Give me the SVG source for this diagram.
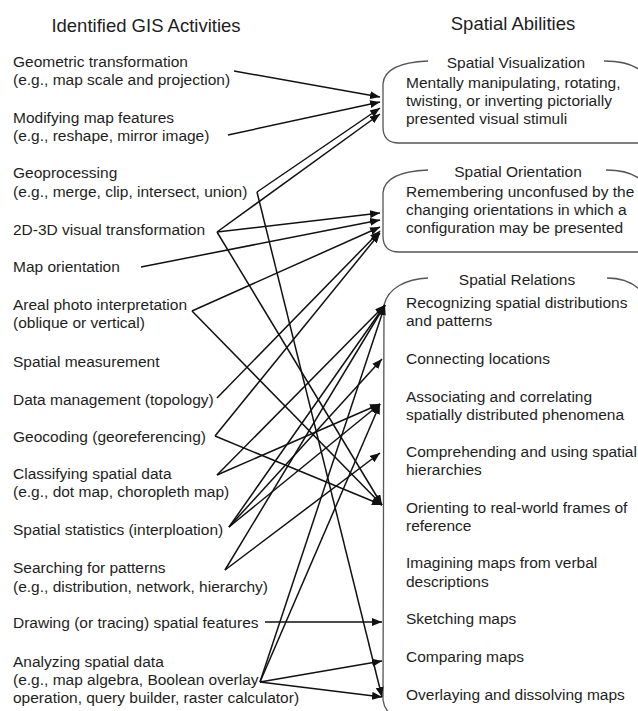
<svg xmlns="http://www.w3.org/2000/svg" width="638" height="711" viewBox="0 0 638 711">
<defs>
<marker id="ah" markerUnits="userSpaceOnUse" markerWidth="10" markerHeight="8" refX="10" refY="4" orient="auto">
<path d="M0,0 L10,4 L0,8 z" fill="#111"/>
</marker>
<style>
text{font-family:"Liberation Sans",Arial,sans-serif;font-size:15.5px;fill:#1e1e1e}
.title{font-size:18.5px}
.bt{text-anchor:middle}
.box{fill:none;stroke:#555;stroke-width:1.3}
.c line{stroke:#111;stroke-width:1.5;marker-end:url(#ah)}
</style>
</defs>
<rect width="638" height="711" fill="#fff"/>
<text class="title" x="146" y="32" text-anchor="middle">Identified GIS Activities</text>
<text class="title" x="513" y="30" text-anchor="middle">Spatial Abilities</text>

<g id="act-geometric"><text x="13" y="67">Geometric transformation</text><text x="13" y="85">(e.g., map scale and projection)</text></g>
<g id="act-modifying"><text x="13" y="123">Modifying map features</text><text x="13" y="141">(e.g., reshape, mirror image)</text></g>
<g id="act-geoprocessing"><text x="13" y="178">Geoprocessing</text><text x="13" y="197">(e.g., merge, clip, intersect, union)</text></g>
<g id="act-2d3d"><text x="13" y="235">2D-3D visual transformation</text></g>
<g id="act-maporient"><text x="13" y="272">Map orientation</text></g>
<g id="act-areal"><text x="13" y="310">Areal photo interpretation</text><text x="13" y="328">(oblique or vertical)</text></g>
<g id="act-measure"><text x="13" y="367">Spatial measurement</text></g>
<g id="act-datamgmt"><text x="13" y="405">Data management (topology)</text></g>
<g id="act-geocoding"><text x="13" y="442">Geocoding (georeferencing)</text></g>
<g id="act-classifying"><text x="13" y="479">Classifying spatial data</text><text x="13" y="497">(e.g., dot map, choropleth map)</text></g>
<g id="act-stats"><text x="13" y="535">Spatial statistics (interploation)</text></g>
<g id="act-searching"><text x="13" y="573">Searching for patterns</text><text x="13" y="592">(e.g., distribution, network, hierarchy)</text></g>
<g id="act-drawing"><text x="13" y="628">Drawing (or tracing) spatial features</text></g>
<g id="act-analyzing"><text x="13" y="667">Analyzing spatial data</text><text x="13" y="685">(e.g., map algebra, Boolean overlay</text><text x="13" y="703">operation, query builder, raster calculator)</text></g>

<g id="ab-visualization">
<path class="box" d="M428 61 C404 62 384 68 383 84 L383 127 Q383 143 399 143 L640 143"/>
<path class="box" d="M604 61 C620 61 632 64 640 70"/>
<text class="bt" x="516" y="68">Spatial Visualization</text>
<text x="406" y="88">Mentally manipulating, rotating,</text>
<text x="406" y="106">twisting, or inverting pictorially</text>
<text x="406" y="124">presented visual stimuli</text>
</g>
<g id="ab-orientation">
<path class="box" d="M428 170 C404 171 384 177 383 193 L383 236 Q383 252 399 252 L640 252"/>
<path class="box" d="M606 170 C622 170 632 173 640 179"/>
<text class="bt" x="518" y="177">Spatial Orientation</text>
<text x="406" y="197">Remembering unconfused by the</text>
<text x="406" y="215">changing orientations in which a</text>
<text x="406" y="233">configuration may be presented</text>
</g>
<g id="ab-relations">
<path class="box" d="M428 278 C406 279 388 288 384 305 L383 700 Q384 708 390 714"/>
<path class="box" d="M607 278 C622 278 632 282 640 290"/>
<text class="bt" x="517" y="285">Spatial Relations</text>
<text x="406" y="308">Recognizing spatial distributions</text>
<text x="406" y="326">and patterns</text>
<text x="406" y="364">Connecting locations</text>
<text x="406" y="402">Associating and correlating</text>
<text x="406" y="420">spatially distributed phenomena</text>
<text x="406" y="457">Comprehending and using spatial</text>
<text x="406" y="475">hierarchies</text>
<text x="406" y="513">Orienting to real-world frames of</text>
<text x="406" y="531">reference</text>
<text x="406" y="568">Imagining maps from verbal</text>
<text x="406" y="587">descriptions</text>
<text x="406" y="624">Sketching maps</text>
<text x="406" y="662">Comparing maps</text>
<text x="406" y="700">Overlaying and dissolving maps</text>
</g>

<g id="connectors" class="c">
<line x1="234" y1="71" x2="380" y2="97"/>
<line x1="228" y1="135" x2="380" y2="102"/>
<line x1="257" y1="192" x2="380" y2="108"/>
<line x1="217" y1="232" x2="380" y2="114"/>
<line x1="217" y1="232" x2="380" y2="213"/>
<line x1="141" y1="267" x2="380" y2="220"/>
<line x1="192" y1="311" x2="380" y2="227"/>
<line x1="217" y1="398" x2="380" y2="231"/>
<line x1="215" y1="436" x2="380" y2="233"/>
<line x1="257" y1="192" x2="382" y2="697"/>
<line x1="217" y1="232" x2="382" y2="505"/>
<line x1="192" y1="311" x2="382" y2="505"/>
<line x1="215" y1="436" x2="382" y2="505"/>
<line x1="217" y1="475" x2="385" y2="305"/>
<line x1="217" y1="475" x2="380" y2="404"/>
<line x1="229" y1="527" x2="385" y2="305"/>
<line x1="229" y1="527" x2="382" y2="359"/>
<line x1="229" y1="527" x2="380" y2="404"/>
<line x1="225" y1="570" x2="385" y2="305"/>
<line x1="225" y1="570" x2="380" y2="453"/>
<line x1="265" y1="622" x2="382" y2="622"/>
<line x1="260" y1="682" x2="382" y2="661"/>
<line x1="260" y1="682" x2="382" y2="697"/>
<line x1="260" y1="682" x2="385" y2="305"/>
<line x1="260" y1="682" x2="380" y2="404"/>
</g>
</svg>
